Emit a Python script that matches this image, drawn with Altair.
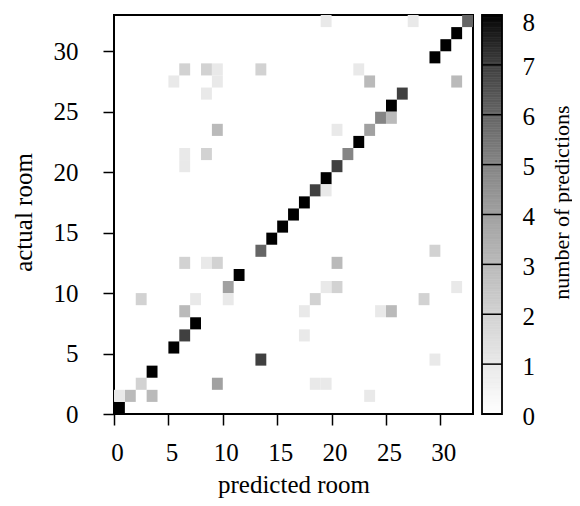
import altair as alt
import pandas as pd

# ---- data (predicted room, actual room, count) ----
pred = [0, 1, 2, 3, 5, 6, 7, 10, 11, 13, 14, 15, 16, 17, 18, 19, 20, 21, 22, 23,
        24, 25, 26, 29, 30, 31, 32,
        0, 3, 23, 9, 18, 19, 13, 29, 17, 6, 17, 24, 25, 2, 7, 10, 18, 28,
        19, 20, 31, 6, 8, 9, 20, 29, 19, 6, 6, 8, 9, 20, 25, 9, 5, 23, 31,
        8, 6, 8, 9, 13, 22, 19, 27]
actual = [0, 1, 2, 3, 5, 6, 7, 10, 11, 13, 14, 15, 16, 17, 18, 19, 20, 21, 22, 23,
          24, 25, 26, 29, 30, 31, 32,
          1, 1, 1, 2, 2, 2, 4, 4, 6, 8, 8, 8, 8, 9, 9, 9, 9, 9,
          10, 10, 10, 12, 12, 12, 12, 13, 18, 20, 21, 21, 23, 23, 24, 27, 27, 27, 27,
          26, 28, 28, 28, 28, 28, 32, 32]
count = [8, 3, 2, 8, 8, 7, 8, 4, 8, 6, 8, 8, 8, 8, 7, 8, 7, 5, 8, 4,
         5, 8, 7, 8, 8, 8, 6,
         1, 3, 1, 4, 1, 1, 7, 1, 1, 3, 1, 1, 3, 2, 1, 1, 2, 2,
         1, 2, 1, 2, 1, 2, 3, 2, 1, 1, 1, 2, 3, 1, 3, 1, 1, 3, 3,
         1, 2, 2, 1, 2, 1, 1, 1]
cb_ticks = [0, 1, 2, 3, 4, 5, 6, 7, 8]
axis_ticks = [0, 5, 10, 15, 20, 25, 30]
n_rooms = 33

FONT = "Liberation Serif"
FS = 25

# gnuplot-like gray palette (gamma 1.5)
gray_range = []
for t in cb_ticks:
    g = round(255 * (1 - t / cb_ticks[-1]) ** (2 / 3))
    gray_range.append("#%02x%02x%02x" % (g, g, g))
color_scale = alt.Scale(domain=cb_ticks, range=gray_range, nice=False, zero=False, clamp=True)

df = pd.DataFrame({"pred": pred, "actual": actual, "count": count})

heat = alt.Chart(df).transform_calculate(
    pred_end="datum.pred + 1", actual_end="datum.actual + 1"
).mark_rect().encode(
    x=alt.X("pred:Q",
            scale=alt.Scale(domain=[0, n_rooms], nice=False, zero=False),
            axis=alt.Axis(values=axis_ticks, title="predicted room",
                          labelPadding=35, labelBaseline="alphabetic",
                          labelFlush=False, labelOffset=3,
                          titleY=78, titleBaseline="alphabetic")),
    x2="pred_end:Q",
    y=alt.Y("actual:Q",
            scale=alt.Scale(domain=[0, n_rooms], nice=False, zero=False),
            axis=alt.Axis(values=axis_ticks, title="actual room",
                          labelPadding=25, titleX=-83, titleY=197, titleAngle=270,
                          titleBaseline="alphabetic", titleAlign="center")),
    y2="actual_end:Q",
    color=alt.Color("count:Q", scale=color_scale, legend=None),
)

cb_y_scale = alt.Scale(domain=[cb_ticks[0], cb_ticks[-1]], nice=False, zero=False)

cb_grad = alt.Chart(alt.sequence(0, 8, 0.05, as_="v")).transform_calculate(
    v2="datum.v + 0.05", vm="datum.v + 0.025"
).mark_rect(strokeWidth=0.6).encode(
    x=alt.value(368), x2=alt.value(388),
    y=alt.Y("v:Q", scale=cb_y_scale,
            axis=alt.Axis(orient="right", offset=29, values=cb_ticks,
                          title="number of predictions", ticks=False,
                          labelPadding=20,
                          labelOffset={"condition": {"test": "datum.value == 8", "value": 7},
                                       "value": 2},
                          titleX=66, titleY=187, titleAngle=270, titleFontSize=22,
                          titleBaseline="alphabetic", titleAlign="center")),
    y2="v2:Q",
    color=alt.Color("vm:Q", scale=color_scale, legend=None),
    stroke=alt.Stroke("vm:Q", scale=color_scale, legend=None),
)

cb_lines = alt.Chart(pd.DataFrame({"t": cb_ticks})).mark_rule(
    color="black", strokeWidth=1.5
).encode(
    x=alt.value(368), x2=alt.value(388),
    y=alt.Y("t:Q", scale=cb_y_scale),
)

cb_box = alt.Chart(pd.DataFrame({"lo": [cb_ticks[0]], "hi": [cb_ticks[-1]]})).mark_rect(
    fill="transparent", stroke="black", strokeWidth=1.8
).encode(
    x=alt.value(368), x2=alt.value(388),
    y=alt.Y("lo:Q", scale=cb_y_scale), y2="hi:Q",
)

colorbar = alt.layer(cb_grad, cb_lines, cb_box)

chart = alt.layer(heat, colorbar).resolve_scale(
    y="independent"
).properties(
    width=359, height=399,
    autosize=alt.AutoSizeParams(type="none"),
    padding={"left": 106, "top": 7, "right": 99, "bottom": 84},
    background="white",
).configure_view(
    stroke="black", strokeWidth=2
).configure_axis(
    labelFont=FONT, titleFont=FONT, labelFontSize=FS, titleFontSize=FS,
    labelColor="black", titleColor="black", titleFontWeight="normal",
    tickColor="black", tickWidth=1.5, tickSize=11, domain=False, grid=False,
)

chart.save("out.html", embed_options={"renderer": "svg", "actions": False})
